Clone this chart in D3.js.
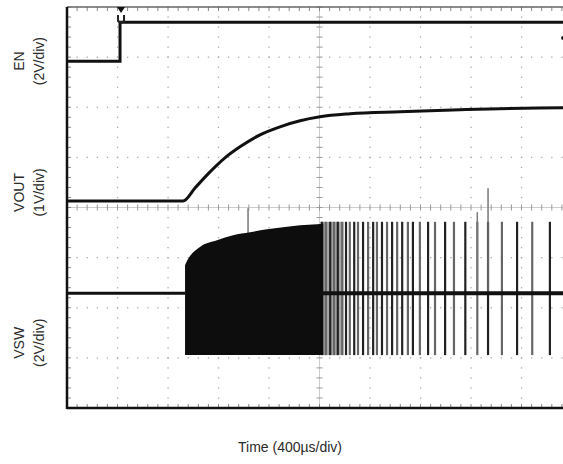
<!DOCTYPE html>
<html lang="en">
<head>
<meta charset="UTF-8">
<title>EN / VOUT / VSW start-up</title>
<style>
  body { margin: 0; background: #fff; }
  .lbl { font: 14px "Liberation Sans", Arial, sans-serif; fill: #2a2a2a; }
</style>
<script src="https://d3js.org/d3.v7.min.js"></script>
</head>
<body>
<svg id="scope"></svg>
<script>
// time base: 400us/div, 10 divisions (right part is cut off by the window)
var timeDivs = d3.range(0, 4001, 400);
var levelDivs = d3.range(0, 9, 1);

// EN channel, volts (2V/div)
var enTime = [0, 420, 4000];
var enVolt = [0, 1.55, 1.55];

// VOUT channel, volts (1V/div)
var voutTime = [0, 919, 1014, 1133, 1251, 1370, 1529, 1687, 1846, 2004, 2242, 2638, 3113, 3929, 4000];
var voutVolt = [0, 0, 0.26, 0.58, 0.86, 1.08, 1.32, 1.48, 1.60, 1.68, 1.74, 1.78, 1.82, 1.86, 1.86];

// VSW channel, volts (2V/div): dense switching envelope
var swTime = [935, 935, 1053, 1188, 1315, 1450, 1584, 1711, 1846, 1980, 2030];
var swHigh = [0, 1.12, 1.84, 2.11, 2.31, 2.43, 2.55, 2.63, 2.71, 2.75, 2.76];
var swLow = -2.47;
var swGrayBand = [2004, 2190];
// VSW: separate pulses once switching thins out
var pulseTime = [2020, 2050, 2085, 2115, 2145, 2180, 2210, 2240, 2275, 2305, 2345, 2385, 2425, 2455,
                 2495, 2535, 2575, 2615, 2655, 2700, 2740, 2795, 2860, 2915, 2995, 3065, 3155, 3250,
                 3335, 3445, 3565, 3685, 3825];
var pulseHigh = 2.85;
var spikes = [[1434, 3.39], [3250, 3.23], [3335, 4.19]];

// channel ground position (div from bottom) and V/div
var channels = {
  en:   {ground: 6.92, vdiv: 2},
  vout: {ground: 4.13, vdiv: 1},
  vsw:  {ground: 2.29, vdiv: 2}
};

var W = 563, H = 464;
var pLeft = 67, pRight = 572, pTop = 7, pBottom = 408;

var svg = d3.select("#scope").attr("width", W).attr("height", H);

var x = d3.scaleLinear().domain([0, 4000]).range([pLeft, pRight]);
var div = d3.scaleLinear().domain([0, 8]).range([pBottom, pTop]);

function chanScale(c) {
  return d3.scaleLinear()
    .domain([-c.ground * c.vdiv, (8 - c.ground) * c.vdiv])
    .range([pBottom, pTop]);
}
var yEn = chanScale(channels.en);
var yOut = chanScale(channels.vout);
var ySw = chanScale(channels.vsw);

svg.append("defs").append("clipPath").attr("id", "plot")
  .append("rect").attr("x", pLeft).attr("y", pTop - 2)
  .attr("width", pRight - pLeft).attr("height", pBottom - pTop + 4);

var grid = svg.append("g");
var minorT = d3.range(0, 4001, 80);
var minorD = d3.range(0, 8.001, 0.2);

// dotted graticule
timeDivs.slice(1, -1).forEach(function(t) {
  if (t === 2000) return;
  grid.selectAll(null).data(minorD).enter().append("rect")
    .attr("x", x(t) - 0.6).attr("y", function(d) { return div(d) - 0.6; })
    .attr("width", 1.3).attr("height", 1.3).attr("fill", "#aaa");
});
levelDivs.slice(1, -1).forEach(function(d) {
  if (d === 4) return;
  grid.selectAll(null).data(minorT).enter().append("rect")
    .attr("x", function(t) { return x(t) - 0.6; }).attr("y", div(d) - 0.6)
    .attr("width", 1.3).attr("height", 1.3).attr("fill", "#aaa");
});

// centre axes with ticks
grid.append("line").attr("x1", x(2000)).attr("x2", x(2000)).attr("y1", pTop).attr("y2", pBottom)
  .attr("stroke", "#ccc").attr("stroke-width", 1);
grid.append("line").attr("x1", pLeft).attr("x2", pRight).attr("y1", div(4)).attr("y2", div(4))
  .attr("stroke", "#ccc").attr("stroke-width", 1);
grid.selectAll(null).data(minorD).enter().append("line")
  .attr("x1", x(2000) - 3).attr("x2", x(2000) + 3)
  .attr("y1", function(d) { return div(d); }).attr("y2", function(d) { return div(d); })
  .attr("stroke", "#999");
grid.selectAll(null).data(minorT).enter().append("line")
  .attr("y1", div(4) - 3).attr("y2", div(4) + 3)
  .attr("x1", function(t) { return x(t); }).attr("x2", function(t) { return x(t); })
  .attr("stroke", "#999");

// border ticks
grid.selectAll(null).data(minorD).enter().append("line")
  .attr("x1", pLeft).attr("x2", pLeft + 4)
  .attr("y1", function(d) { return div(d); }).attr("y2", function(d) { return div(d); })
  .attr("stroke", "#888");
grid.selectAll(null).data(minorT).enter().append("line")
  .attr("y1", pBottom).attr("y2", pBottom - 4)
  .attr("x1", function(t) { return x(t); }).attr("x2", function(t) { return x(t); })
  .attr("stroke", "#888");
grid.selectAll(null).data(minorT).enter().append("line")
  .attr("y1", pTop).attr("y2", pTop + 4)
  .attr("x1", function(t) { return x(t); }).attr("x2", function(t) { return x(t); })
  .attr("stroke", "#888");

// frame
grid.append("line").attr("x1", pLeft).attr("x2", pRight).attr("y1", pTop).attr("y2", pTop)
  .attr("stroke", "#666").attr("stroke-width", 1.5);
grid.append("line").attr("x1", pLeft).attr("x2", pRight).attr("y1", pBottom).attr("y2", pBottom)
  .attr("stroke", "#111").attr("stroke-width", 2.5);
grid.append("line").attr("x1", pLeft).attr("x2", pLeft).attr("y1", pTop).attr("y2", pBottom + 1)
  .attr("stroke", "#111").attr("stroke-width", 2.5);

var traces = svg.append("g").attr("clip-path", "url(#plot)");

// EN
traces.append("path")
  .datum(enTime.map(function(t, i) { return [t, enVolt[i]]; }))
  .attr("d", d3.line().curve(d3.curveStepAfter)
    .x(function(d) { return x(d[0]); }).y(function(d) { return yEn(d[1]); }))
  .attr("fill", "none").attr("stroke", "#111").attr("stroke-width", 3);

// VOUT
traces.append("path")
  .datum(voutTime.map(function(t, i) { return [t, voutVolt[i]]; }))
  .attr("d", d3.line().curve(d3.curveMonotoneX)
    .x(function(d) { return x(d[0]); }).y(function(d) { return yOut(d[1]); }))
  .attr("fill", "none").attr("stroke", "#111").attr("stroke-width", 3);

// VSW baseline
traces.append("line").attr("x1", x(0)).attr("x2", x(swTime[0]))
  .attr("y1", ySw(0)).attr("y2", ySw(0)).attr("stroke", "#111").attr("stroke-width", 3);

// gray band where switching starts to skip
traces.append("rect")
  .attr("x", x(swGrayBand[0])).attr("width", x(swGrayBand[1]) - x(swGrayBand[0]))
  .attr("y", ySw(pulseHigh)).attr("height", ySw(swLow) - ySw(pulseHigh))
  .attr("fill", "#888").attr("opacity", 0.75);

// individual pulses
traces.selectAll(null).data(pulseTime).enter().append("line")
  .attr("x1", function(t) { return x(t); }).attr("x2", function(t) { return x(t); })
  .attr("y1", ySw(pulseHigh)).attr("y2", ySw(swLow))
  .attr("stroke", function(t, i) { return i % 2 ? "#666" : "#222"; })
  .attr("stroke-width", 2.2);

// overshoot spikes
traces.selectAll(null).data(spikes).enter().append("line")
  .attr("x1", function(d) { return x(d[0]); }).attr("x2", function(d) { return x(d[0]); })
  .attr("y1", function(d) { return ySw(d[1]); }).attr("y2", ySw(0))
  .attr("stroke", "#777").attr("stroke-width", 1.5);

// dense switching
traces.append("path")
  .datum(swTime.map(function(t, i) { return [t, swHigh[i]]; }))
  .attr("d", d3.area().curve(d3.curveMonotoneX)
    .x(function(d) { return x(d[0]); })
    .y0(ySw(swLow)).y1(function(d) { return ySw(d[1]); }))
  .attr("fill", "#0d0d0d");

// baseline over the pulses
traces.append("line").attr("x1", x(swGrayBand[0])).attr("x2", x(4000))
  .attr("y1", ySw(0)).attr("y2", ySw(0)).attr("stroke", "#111").attr("stroke-width", 4);

// trigger marker and channel markers
var tx = x(enTime[1]) + 1;
svg.append("path")
  .attr("d", "M" + (tx - 4) + "," + pTop + "L" + (tx + 4) + "," + pTop + "L" + tx + "," + (pTop + 6) + "Z")
  .attr("fill", "#111");
svg.append("path")
  .attr("d", "M" + (tx - 3) + "," + (pTop + 8) + "L" + (tx - 3) + "," + (pTop + 14) +
             "Q" + tx + "," + (pTop + 17) + " " + (tx + 3) + "," + (pTop + 14) + "L" + (tx + 3) + "," + (pTop + 8))
  .attr("fill", "none").attr("stroke", "#222").attr("stroke-width", 2);
svg.append("circle").attr("cx", x(3930)).attr("cy", yEn(0.92)).attr("r", 2).attr("fill", "#111");

// channel labels
var labels = [
  {name: "EN", unit: "(2V/div)", mid: 6.92},
  {name: "VOUT", unit: "(1V/div)", mid: 4.3},
  {name: "VSW", unit: "(2V/div)", mid: 1.3}
];
labels.forEach(function(l) {
  var cy = div(l.mid);
  svg.append("text").attr("class", "lbl")
    .attr("transform", "translate(24," + cy + ") rotate(-90)")
    .attr("text-anchor", "middle").text(l.name);
  svg.append("text").attr("class", "lbl")
    .attr("transform", "translate(44," + cy + ") rotate(-90)")
    .attr("text-anchor", "middle").text(l.unit);
});

svg.append("text").attr("class", "lbl")
  .attr("x", 290).attr("y", 452).attr("text-anchor", "middle")
  .text("Time (400\u00b5s/div)");
</script>
</body>
</html>
